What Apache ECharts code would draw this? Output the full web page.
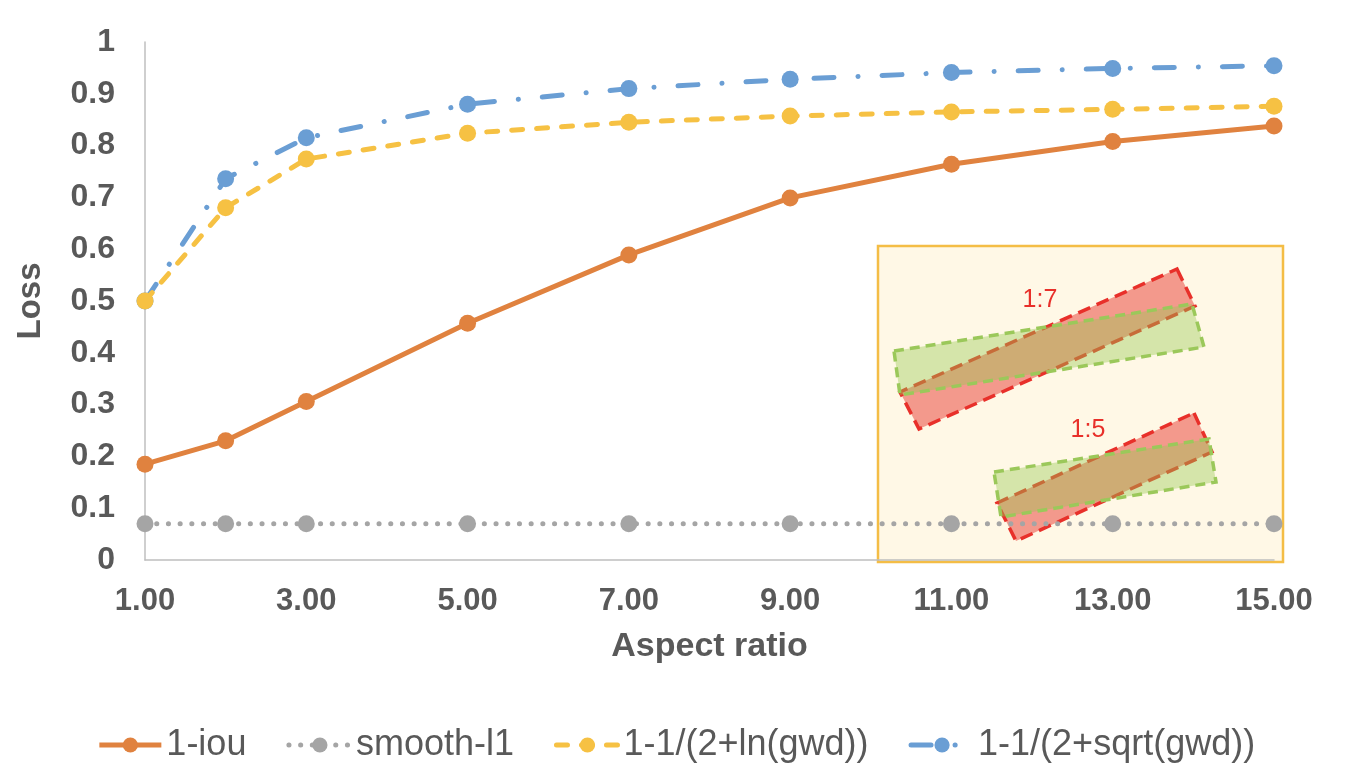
<!DOCTYPE html>
<html>
<head>
<meta charset="utf-8">
<script src="https://cdn.jsdelivr.net/npm/echarts@6/dist/echarts.min.js"></script>
<style>
  html, body { margin: 0; padding: 0; background: #fff; }
  #chart { width: 1352px; height: 772px; }
</style>
</head>
<body>
<div id="chart"></div>
<script>
// aspect ratios on the x axis
const ratios = [1, 2, 3, 5, 7, 9, 11, 13, 15];

// loss values
const iouLoss     = [0.185, 0.230, 0.306, 0.457, 0.589, 0.699, 0.764, 0.808, 0.838];
const smoothL1    = [0.07, 0.07, 0.07, 0.07, 0.07, 0.07, 0.07, 0.07, 0.07];
const gwdLnLoss   = [0.500, 0.680, 0.774, 0.824, 0.845, 0.857, 0.865, 0.870, 0.876];
const gwdSqrtLoss = [0.500, 0.736, 0.815, 0.880, 0.910, 0.928, 0.941, 0.949, 0.954];

const seriesNames = ['1-iou', 'smooth-l1', '1-1/(2+ln(gwd))', '1-1/(2+sqrt(gwd))'];

// inset sketch: two boxes of aspect 1:7 and 1:5 (pixel polygons)
const insetRed1   = [[1177, 269], [1195, 306], [919, 429], [900, 392]];
const insetGreen1 = [[894, 351], [1192, 304], [1204, 347], [900, 395]];
const insetRed2   = [[1194, 413], [1212, 452], [1016, 541], [997, 503]];
const insetGreen2 = [[994, 472], [1209, 439], [1216, 482], [1001, 517]];

const pair = vals => ratios.map((r, i) => [r, vals[i]]);
const font = 'Liberation Sans, Arial, sans-serif';
const txt = '#595959';

const chart = echarts.init(document.getElementById('chart'));

function box(points, fill, stroke, dash) {
    return {
        type: 'polygon',
        z: 0,
        shape: { points: points },
        style: { fill: fill, stroke: stroke, lineWidth: 3.5, lineDash: dash }
    };
}

function label(text, x, y) {
    return {
        type: 'text', z: 0, x: x, y: y,
        style: {
            text: text, fill: '#E8302A', fontSize: 25, fontFamily: font,
            align: 'center', verticalAlign: 'middle'
        }
    };
}

chart.setOption({
    animation: false,
    textStyle: { fontFamily: font },
    grid: { left: 145, right: 78, top: 42, bottom: 212 },
    legend: {
        left: 'center',
        top: 722,
        itemWidth: 62,
        itemHeight: 19,
        itemGap: 40,
        lineStyle: { width: 5 },
        textStyle: { fontSize: 36, color: txt, fontFamily: font },
        data: seriesNames
    },
    xAxis: {
        type: 'value',
        min: 1,
        max: 15,
        interval: 2,
        name: 'Aspect ratio',
        nameLocation: 'middle',
        nameGap: 70,
        nameTextStyle: { fontSize: 34, fontWeight: 'bold', color: txt },
        axisLine: { lineStyle: { color: '#BFBFBF', width: 1.5 } },
        axisTick: { show: false },
        splitLine: { show: false },
        axisLabel: {
            margin: 26,
            fontSize: 31,
            fontWeight: 'bold',
            color: txt,
            formatter: v => v.toFixed(2)
        }
    },
    yAxis: {
        type: 'value',
        min: 0,
        max: 1,
        interval: 0.1,
        name: 'Loss',
        nameLocation: 'middle',
        nameGap: 98,
        nameTextStyle: { fontSize: 33, fontWeight: 'bold', color: txt },
        axisLine: { show: true, lineStyle: { color: '#BFBFBF', width: 1.5 } },
        axisTick: { show: false },
        splitLine: { show: false },
        axisLabel: {
            margin: 30,
            fontSize: 32,
            fontWeight: 'bold',
            color: txt,
            formatter: v => String(Math.round(v * 10) / 10)
        }
    },
    series: [
        {
            name: seriesNames[0],
            type: 'line',
            data: pair(iouLoss),
            color: '#E0823F',
            symbol: 'circle',
            symbolSize: 17,
            lineStyle: { width: 5 },
            z: 5
        },
        {
            name: seriesNames[1],
            type: 'line',
            data: pair(smoothL1),
            color: '#A5A5A5',
            symbol: 'circle',
            symbolSize: 17,
            lineStyle: { width: 5, type: [0.1, 11.6], cap: 'round' },
            z: 4
        },
        {
            name: seriesNames[2],
            type: 'line',
            data: pair(gwdLnLoss),
            color: '#F6C143',
            symbol: 'circle',
            symbolSize: 17,
            lineStyle: { width: 5, type: [11, 14], cap: 'round' },
            z: 3
        },
        {
            name: seriesNames[3],
            type: 'line',
            data: pair(gwdSqrtLoss),
            color: '#6A9ED4',
            symbol: 'circle',
            symbolSize: 17,
            lineStyle: { width: 5, type: [20, 24, 0.1, 24], cap: 'round' },
            z: 2
        }
    ],
    graphic: [
        {
            type: 'rect',
            z: 0,
            shape: { x: 878, y: 246, width: 405, height: 316 },
            style: { fill: '#FFF8E6', stroke: '#F4BD45', lineWidth: 2.5 }
        },
        box(insetRed1, 'rgba(235,90,80,0.6)', '#E8302A', [13, 7]),
        box(insetGreen1, 'rgba(150,200,80,0.4)', '#9BC85A', [10, 6]),
        box(insetRed2, 'rgba(235,90,80,0.6)', '#E8302A', [13, 7]),
        box(insetGreen2, 'rgba(150,200,80,0.4)', '#9BC85A', [10, 6]),
        label('1:7', 1040, 300),
        label('1:5', 1088, 430)
    ]
});
</script>
</body>
</html>
